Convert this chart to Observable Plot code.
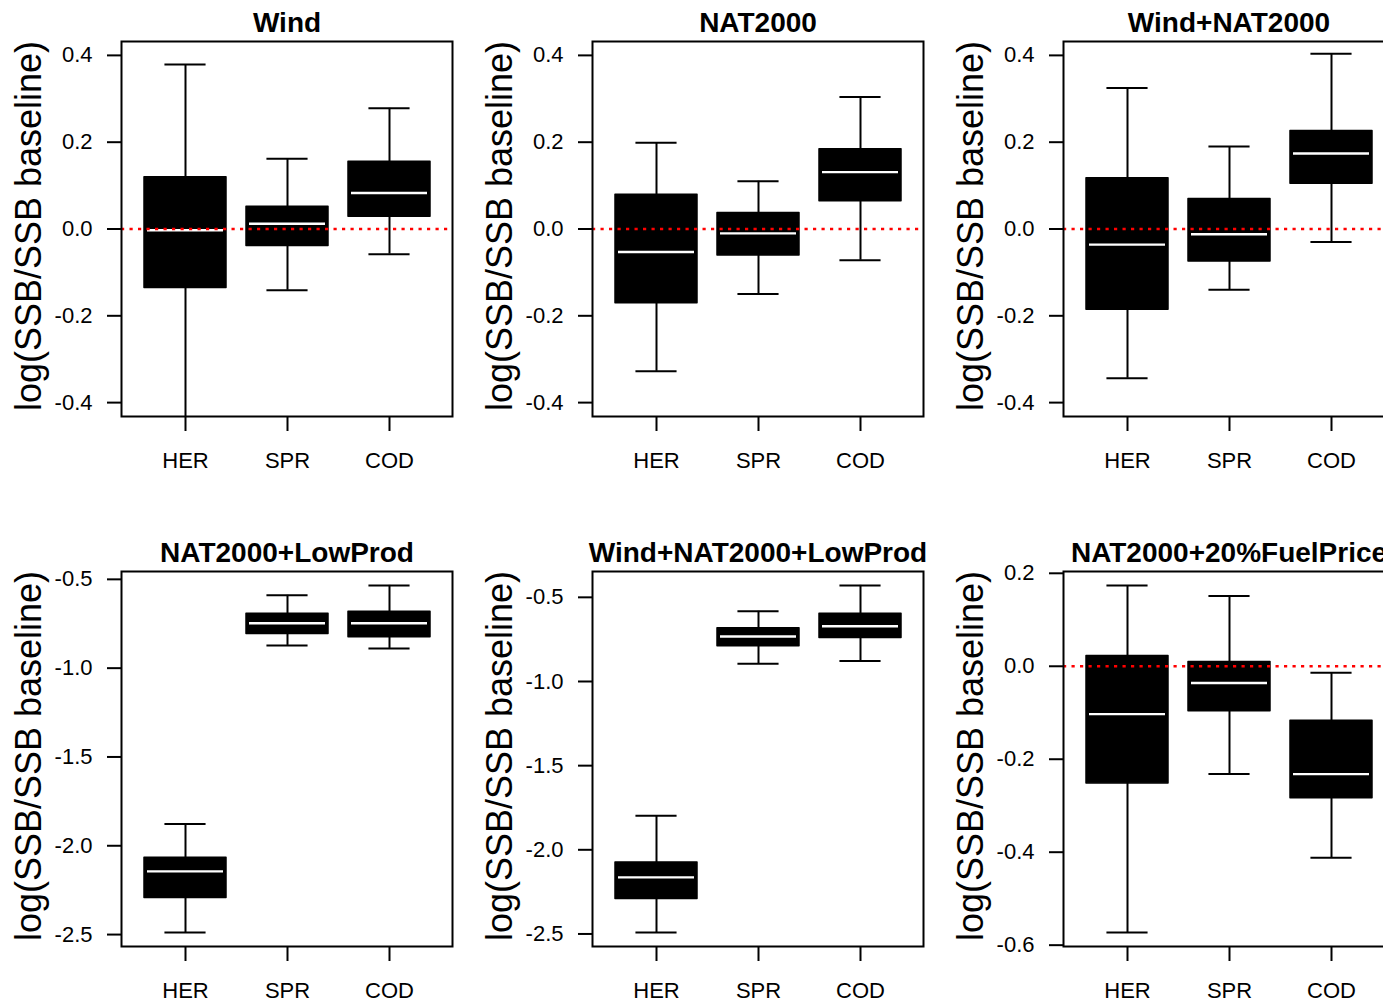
<!DOCTYPE html>
<html>
<head>
<meta charset="utf-8">
<script src="https://cdn.jsdelivr.net/npm/d3@7"></script>
<script src="https://cdn.jsdelivr.net/npm/@observablehq/plot@0.6"></script>
<style>
  html, body { margin: 0; padding: 0; background: white; overflow: hidden; }
  #chart { position: relative; width: 1383px; height: 1000px; overflow: hidden; background: white; }
  .cell { position: absolute; width: 471px; height: 530px; }
  .cell svg { max-width: none !important; width: 471px; height: 530px; display: block; }
</style>
</head>
<body>
<div id="chart"></div>
<script>
// ---------------- data ----------------
const panelTitles = ["Wind", "NAT2000", "Wind+NAT2000", "NAT2000+LowProd", "Wind+NAT2000+LowProd", "NAT2000+20%FuelPrice"];
const species = ["HER", "SPR", "COD"];
const yLabel = "log(SSB/SSB baseline)";

// box statistics per panel, in species order HER, SPR, COD
const whiskerLow = [
  [-0.46, -0.141, -0.058],
  [-0.328, -0.150, -0.072],
  [-0.344, -0.140, -0.030],
  [-2.489, -0.872, -0.889],
  [-2.492, -0.894, -0.878],
  [-0.573, -0.232, -0.412]
];
const lowerQuartile = [
  [-0.136, -0.039, 0.028],
  [-0.171, -0.061, 0.064],
  [-0.186, -0.075, 0.104],
  [-2.294, -0.807, -0.826],
  [-2.292, -0.791, -0.741],
  [-0.252, -0.097, -0.284]
];
const medianValue = [
  [-0.003, 0.012, 0.083],
  [-0.053, -0.010, 0.131],
  [-0.036, -0.012, 0.174],
  [-2.144, -0.747, -0.747],
  [-2.164, -0.733, -0.672],
  [-0.103, -0.036, -0.232]
];
const upperQuartile = [
  [0.119, 0.051, 0.155],
  [0.079, 0.037, 0.184],
  [0.117, 0.069, 0.226],
  [-2.067, -0.693, -0.682],
  [-2.075, -0.684, -0.597],
  [0.022, 0.009, -0.117]
];
const whiskerHigh = [
  [0.379, 0.162, 0.278],
  [0.199, 0.110, 0.304],
  [0.325, 0.190, 0.404],
  [-1.878, -0.590, -0.534],
  [-1.798, -0.583, -0.429],
  [0.174, 0.151, -0.014]
];
const yTicks = [
  [-0.4, -0.2, 0, 0.2, 0.4],
  [-0.4, -0.2, 0, 0.2, 0.4],
  [-0.4, -0.2, 0, 0.2, 0.4],
  [-2.5, -2.0, -1.5, -1.0, -0.5],
  [-2.5, -2.0, -1.5, -1.0, -0.5],
  [-0.6, -0.4, -0.2, 0, 0.2]
];
const yLimits = [[-0.4, 0.4], [-0.4, 0.4], [-0.4, 0.4], null, null, null];
const referenceValue = 0;

// ---------------- layout ----------------
const cellW = 471, cellH = 530;
const mLeft = 121, mTop = 41, plotW = 331, plotH = 375;
const mRight = cellW - mLeft - plotW, mBottom = cellH - mTop - plotH;
const padInner = 0.2, padOuter = 0.22;
const step = plotW / (species.length - padInner + 2 * padOuter);
const bandW = step * (1 - padInner);
const font = "'Liberation Sans', Arial, Helvetica, sans-serif";

const chart = document.getElementById("chart");

panelTitles.forEach((title, p) => {
  const rows = species.map((s, i) => ({
    species: s,
    low: whiskerLow[p][i],
    q1: lowerQuartile[p][i],
    med: medianValue[p][i],
    q3: upperQuartile[p][i],
    high: whiskerHigh[p][i]
  }));
  let lim = yLimits[p];
  if (!lim) lim = [d3.min(rows, d => d.low), d3.max(rows, d => d.high)];
  const ext = 0.04 * (lim[1] - lim[0]);
  const domain = [lim[0] - ext, lim[1] + ext];

  const marks = [
    Plot.ruleX(rows, {x: "species", y1: "low", y2: "high", stroke: "black", strokeWidth: 2, clip: true}),
    Plot.tickY(rows, {x: "species", y: "low", stroke: "black", strokeWidth: 2, inset: bandW / 4, clip: true}),
    Plot.tickY(rows, {x: "species", y: "high", stroke: "black", strokeWidth: 2, inset: bandW / 4, clip: true}),
    Plot.rectY(rows, {x: "species", y1: "q1", y2: "q3", fill: "black", stroke: "black", strokeWidth: 1.5, strokeLinejoin: "round"}),
    Plot.tickY(rows, {x: "species", y: "med", stroke: "white", strokeWidth: 2.4, inset: 3})
  ];
  if (referenceValue >= domain[0] && referenceValue <= domain[1]) {
    marks.push(Plot.ruleY([referenceValue], {stroke: "#ff0000", strokeWidth: 2.6, strokeDasharray: "3.2,5.3"}));
  }
  marks.push(
    Plot.frame({stroke: "black", strokeWidth: 2}),
    Plot.axisY({ticks: yTicks[p], tickFormat: d => d.toFixed(1), tickSize: 14, tickPadding: 15, fontSize: 22, label: null, strokeWidth: 2}),
    Plot.axisX({tickSize: 15, tickPadding: 21, fontSize: 22, label: null, strokeWidth: 2}),
    Plot.text([title], {frameAnchor: "top", dy: -18.6, fontSize: 28, fontWeight: "bold", textAnchor: "middle", lineAnchor: "middle", fill: "black"}),
    Plot.text([yLabel], {frameAnchor: "left", dx: -92.5, dy: -3, rotate: -90, fontSize: 36, textAnchor: "middle", lineAnchor: "middle", fill: "black"})
  );

  const svg = Plot.plot({
    width: cellW,
    height: cellH,
    marginLeft: mLeft,
    marginRight: mRight,
    marginTop: mTop,
    marginBottom: mBottom,
    x: {type: "band", domain: species, paddingInner: padInner, paddingOuter: padOuter},
    y: {domain},
    style: {fontFamily: font, fontSize: "22px", color: "black", background: "white", overflow: "visible", maxWidth: "none"},
    marks
  });
  const cell = document.createElement("div");
  cell.className = "cell";
  cell.style.left = (p % 3) * cellW + "px";
  cell.style.top = Math.floor(p / 3) * cellH + "px";
  cell.appendChild(svg);
  chart.appendChild(cell);
});
</script>
</body>
</html>
